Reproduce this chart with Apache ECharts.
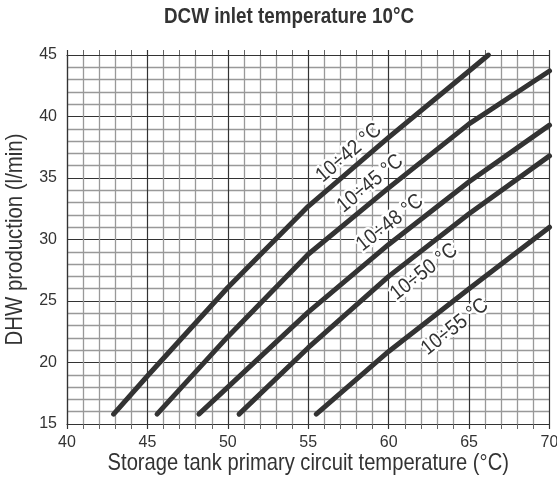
<!DOCTYPE html>
<html><head><meta charset="utf-8">
<script src="https://cdn.jsdelivr.net/npm/echarts@6/dist/echarts.min.js"></script>
<style>html,body{margin:0;padding:0;background:#fff}#c{width:557px;height:490px}</style>
</head><body><div id="c"></div>
<script>
const chartTitle = 'DCW inlet temperature 10°C';
const xName = 'Storage tank primary circuit temperature (°C)';
const yName = 'DHW production (l/min)';
const seriesNames = ['10÷42 °C', '10÷45 °C', '10÷48 °C', '10÷50 °C', '10÷55 °C'];
const s42 = [[42.9, 15.8], [45, 18.9], [50, 26.1], [55, 32.7], [60, 38.3], [65, 43.7], [66.2, 45]];
const s45 = [[45.6, 15.8], [50, 22.1], [55, 28.8], [60, 34.2], [65, 39.4], [70, 43.7]];
const s48 = [[48.2, 15.8], [50, 18.0], [55, 24.1], [60, 29.6], [65, 34.7], [70, 39.3]];
const s50 = [[50.7, 15.8], [55, 21.2], [60, 27.0], [65, 32.1], [70, 36.8]];
const s55 = [[55.5, 15.8], [60, 20.9], [65, 26.0], [70, 31.0]];
const allSeries = [s42, s45, s48, s50, s55];
// label placement: anchor x along each curve and perpendicular offset in px (+ = above)
const labelAnchorX = [58.1, 59.45, 60.7, 61.5, 63.3];
const labelOffset = [14, 15, 16.2, -18.3, -21.5];

const FONT_R = "'Liberation Sans', Arial, sans-serif";
const TXT = '#333';

const chart = echarts.init(document.getElementById('c'), null, {renderer: 'canvas'});
const option = {
  animation: false,
  backgroundColor: '#fff',
  grid: {left: 67, right: 7.5, top: 55, bottom: 66, containLabel: false, outerBoundsMode: 'none'},
  xAxis: [{
    type: 'value', min: 40, max: 70, interval: 5, position: 'bottom',
    axisLine: {show: true, onZero: false, lineStyle: {color: '#333', width: 1.2}},
    axisTick: {show: true, length: 5, lineStyle: {color: '#333', width: 1.2}},
    minorTick: {show: true, splitNumber: 5, length: 5, lineStyle: {color: '#666', width: 1}},
    splitLine: {show: true, lineStyle: {color: '#333', width: 1.2}},
    minorSplitLine: {show: true, lineStyle: {color: '#999', width: 1.3}},
    axisLabel: {margin: 11, fontFamily: FONT_R, fontSize: 16, color: TXT}
  }, {
    type: 'value', min: 40, max: 70, interval: 5, position: 'top',
    axisLine: {show: true, onZero: false, lineStyle: {color: '#333', width: 1.2}},
    axisTick: {show: true, length: 5, lineStyle: {color: '#333', width: 1.2}},
    minorTick: {show: true, splitNumber: 5, length: 5, lineStyle: {color: '#666', width: 1}},
    splitLine: {show: false}, axisLabel: {show: false}
  }],
  yAxis: {
    type: 'value', min: 15, max: 45, interval: 5,
    axisLine: {show: true, lineStyle: {color: '#333', width: 1.2}},
    axisTick: {show: false},
    minorTick: {show: false, splitNumber: 5},
    splitLine: {show: true, lineStyle: {color: '#333', width: 1.2}},
    minorSplitLine: {show: true, lineStyle: {color: '#999', width: 1.3}},
    axisLabel: {margin: 10, fontFamily: FONT_R, fontSize: 16, color: TXT}
  },
  series: allSeries.map((d, i) => ({
    name: seriesNames[i], type: 'line', data: d, xAxisIndex: 0,
    smooth: false, symbol: 'none',
    lineStyle: {color: '#333', width: 5, cap: 'round', join: 'round'},
    z: 3
  }))
};
chart.setOption(option);

function interp(d, x) {
  for (let i = 0; i < d.length - 1; i++) {
    if (x >= d[i][0] && x <= d[i + 1][0]) {
      const t = (x - d[i][0]) / (d[i + 1][0] - d[i][0]);
      return {y: d[i][1] + t * (d[i + 1][1] - d[i][1]), a: d[i], b: d[i + 1]};
    }
  }
  return {y: d[d.length - 1][1], a: d[d.length - 2], b: d[d.length - 1]};
}
const graphics = allSeries.map((d, i) => {
  const r = interp(d, labelAnchorX[i]);
  const p = chart.convertToPixel({gridIndex: 0}, [labelAnchorX[i], r.y]);
  const pa = chart.convertToPixel({gridIndex: 0}, r.a);
  const pb = chart.convertToPixel({gridIndex: 0}, r.b);
  const ang = Math.atan2(-(pb[1] - pa[1]), pb[0] - pa[0]);
  const nx = -Math.sin(ang), ny = -Math.cos(ang);
  return {
    type: 'text', x: p[0] + nx * labelOffset[i], y: p[1] + ny * labelOffset[i], rotation: ang, scaleX: 0.9, z: 10,
    style: {text: seriesNames[i], fill: TXT, font: "21px " + FONT_R, align: 'center', verticalAlign: 'middle',
      stroke: '#fff', lineWidth: 5, strokeFirst: true}
  };
});
// condensed-looking titles (Arial-metric font narrowed horizontally)
const c0 = chart.convertToPixel({gridIndex: 0}, [40, 15]);
const c1 = chart.convertToPixel({gridIndex: 0}, [70, 45]);
const midX = (c0[0] + c1[0]) / 2, midY = (c0[1] + c1[1]) / 2;
graphics.push({
  type: 'text', x: 289, y: 17, scaleX: 0.855, z: 10,
  style: {text: chartTitle, fill: TXT, font: "bold 22px " + FONT_R, align: 'center', verticalAlign: 'middle'}
});
graphics.push({
  type: 'text', x: midX, y: 463.5, scaleX: 0.84, z: 10,
  style: {text: xName, fill: TXT, font: "24px " + FONT_R, align: 'center', verticalAlign: 'middle'}
});
graphics.push({
  type: 'text', x: 15, y: midY, rotation: Math.PI / 2, scaleX: 0.85, z: 10,
  style: {text: yName, fill: TXT, font: "24px " + FONT_R, align: 'center', verticalAlign: 'middle'}
});
chart.setOption({graphic: graphics});
</script>
</body></html>
